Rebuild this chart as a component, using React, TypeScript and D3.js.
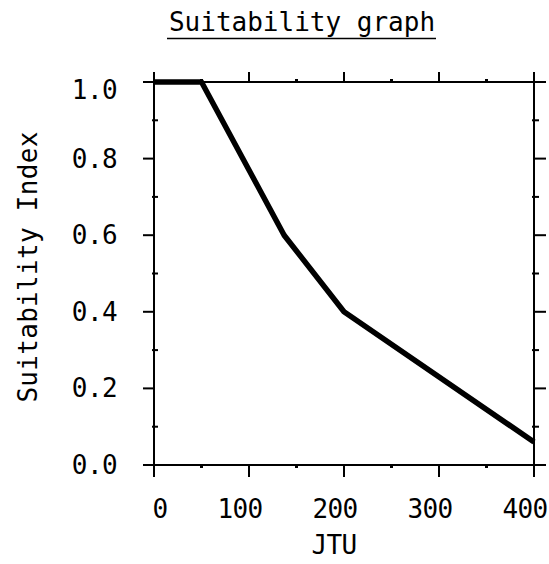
import React from 'react'
import { scaleLinear, line } from 'd3'

// values
const jtu = [0, 50, 137, 200, 400]
const suitability = [1.0, 1.0, 0.6, 0.4, 0.06]

const xTicks = [0, 100, 200, 300, 400]
const xMinor = [50, 150, 250, 350]
const yTicks = [0, 0.2, 0.4, 0.6, 0.8, 1.0]
const yMinor = [0.1, 0.3, 0.5, 0.7, 0.9]
const yTickLabels = ['0.0', '0.2', '0.4', '0.6', '0.8', '1.0']

const width = 549, height = 564
const plot = { left: 154, right: 534, top: 82, bottom: 465 }
const font = '"DejaVu Sans Mono", monospace'

export default function App() {
    const x = scaleLinear().domain([0, 400]).range([plot.left, plot.right])
    const y = scaleLinear().domain([0, 1]).range([plot.bottom, plot.top])

    const pts: [number, number][] = jtu.map((d, i) => [d, suitability[i]])
    const gen = line<[number, number]>()
        .x(d => x(d[0]))
        .y(d => y(d[1]))

    const ax = { stroke: '#000', strokeWidth: 2 }

    return (
        <svg width={width} height={height} style={{ position: 'absolute', left: 0, top: 0, background: '#fff' }}
            fontFamily={font} fontSize={26} letterSpacing={-0.6}>
            {/* title */}
            <text x={302} y={31} textAnchor='middle' letterSpacing={0}>Suitability graph</text>
            <line x1={167} x2={436} y1={38.5} y2={38.5} stroke='#000' strokeWidth={1.5} />

            {/* frame */}
            <line x1={plot.left} x2={plot.left} y1={plot.top - 10} y2={plot.bottom + 12} {...ax} />
            <line x1={plot.right} x2={plot.right} y1={plot.top - 10} y2={plot.bottom + 12} {...ax} />
            <line x1={plot.left - 4} x2={plot.right + 4} y1={plot.top} y2={plot.top} {...ax} />
            <line x1={plot.left - 4} x2={plot.right + 4} y1={plot.bottom} y2={plot.bottom} {...ax} />

            {/* x ticks */}
            {xTicks.map(t => (
                <g key={'xt' + t}>
                    <line x1={x(t)} x2={x(t)} y1={plot.top} y2={plot.top - 10} {...ax} />
                    <line x1={x(t)} x2={x(t)} y1={plot.bottom} y2={plot.bottom + 12} {...ax} />
                    <text x={x(t) + (t === 0 ? 6 : -9)} y={518} textAnchor='middle'>{t}</text>
                </g>
            ))}
            {xMinor.map(t => (
                <g key={'xm' + t}>
                    <line x1={x(t)} x2={x(t)} y1={plot.top} y2={plot.top - 3} {...ax} strokeWidth={3} />
                    <line x1={x(t)} x2={x(t)} y1={plot.bottom} y2={plot.bottom + 3} {...ax} strokeWidth={3} />
                </g>
            ))}

            {/* y ticks */}
            {yTicks.map((t, i) => (
                <g key={'yt' + t}>
                    <line x1={plot.left - 11} x2={plot.left} y1={y(t)} y2={y(t)} {...ax} />
                    <line x1={plot.right} x2={plot.right + 12} y1={y(t)} y2={y(t)} {...ax} />
                    <text x={117} y={y(t) + 9 + (t === 1 ? 8 : 0)} textAnchor='end'>{yTickLabels[i]}</text>
                </g>
            ))}
            {yMinor.map(t => (
                <g key={'ym' + t}>
                    <line x1={plot.left - 2} x2={plot.left + 4} y1={y(t)} y2={y(t)} {...ax} />
                    <line x1={plot.right - 2} x2={plot.right + 5} y1={y(t)} y2={y(t)} {...ax} />
                </g>
            ))}

            {/* axis titles */}
            <text x={334} y={554} textAnchor='middle'>JTU</text>
            <text transform='translate(37,267) rotate(-90)' textAnchor='middle' letterSpacing={0.3}>Suitability Index</text>

            {/* data */}
            <path d={gen(pts) ?? ''} fill='none' stroke='#000' strokeWidth={5.5} strokeLinejoin='round' />
        </svg>
    )
}
